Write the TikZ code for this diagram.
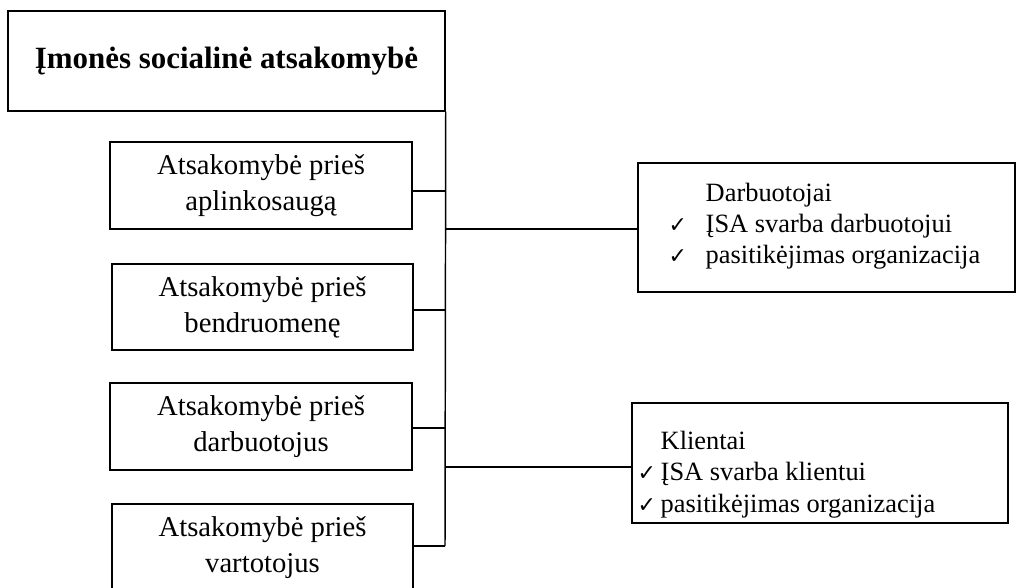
\documentclass[tikz,border=0pt]{standalone}
\usepackage{fontspec}
\setmainfont{Liberation Serif}
\newfontfamily\symfont{DejaVu Sans}
\begin{document}
\begin{tikzpicture}[x=0.75pt,y=-0.75pt,line width=1.1pt,
  lbox/.style={draw,inner sep=0pt,align=center,font=\fontsize{21.5}{27}\selectfont},
  rbox/.style={draw,inner sep=0pt},
  rtext/.style={anchor=base west,inner sep=0pt,font=\fontsize{19.8}{24}\selectfont},
  chk/.style={anchor=base west,inner sep=0pt,font=\symfont\fontsize{16.5}{16.5}\selectfont}]
\useasboundingbox (0,0) rectangle (1017,587);
\clip (0,0) rectangle (1017,587);
% top box
\node[draw,inner sep=0pt,minimum width=327.75pt,minimum height=75pt,font=\fontsize{23.2}{28}\selectfont\bfseries] (top) at (226.5,61) {Įmonės socialinė atsakomybė};
% left boxes
\node[lbox,minimum width=226.5pt,minimum height=65.25pt] (b1) at (261,185.5) {Atsakomybė prieš\\aplinkosaugą};
\node[lbox,minimum width=225.75pt,minimum height=64.5pt] (b2) at (262.5,307) {Atsakomybė prieš\\bendruomenę};
\node[lbox,minimum width=226.5pt,minimum height=65.25pt] (b3) at (261,426.5) {Atsakomybė prieš\\darbuotojus};
\node[lbox,minimum width=225.75pt,minimum height=65.25pt] (b4) at (262.5,547.5) {Atsakomybė prieš\\vartotojus};
% right boxes
\node[rbox,minimum width=282.75pt,minimum height=96.75pt] (d) at (826.5,227.5) {};
\node[rtext] (dt) at (705,201) {Darbuotojai};
\node[chk] (dc1) at (668,232) {✓};
\node[rtext] (d1) at (705,232) {ĮSA svarba darbuotojui};
\node[chk] (dc2) at (668,263) {✓};
\node[rtext] (d2) at (705,263) {pasitikėjimas organizacija};
\node[rbox,minimum width=282pt,minimum height=90pt] (k) at (820,463) {};
\node[rtext] (kt) at (660,449) {Klientai};
\node[chk] (kc1) at (637,480) {✓};
\node[rtext] (k1) at (660,480) {ĮSA svarba klientui};
\node[chk] (kc2) at (637,512) {✓};
\node[rtext] (k2) at (660,512) {pasitikėjimas organizacija};
% spine
\coordinate (s1) at (445,191);
\coordinate (s2) at (445,310);
\coordinate (s3) at (445,428);
\coordinate (s4) at (445,546);
\coordinate (r1) at (445,229);
\coordinate (r2) at (445,467);
\draw (top.south east) -- (s4);
\draw (b1.east |- s1) -- (s1);
\draw (b2.east |- s2) -- (s2);
\draw (b3.east |- s3) -- (s3);
\draw (b4.east |- s4) -- (s4);
\draw (r1) -- (d.west |- r1);
\draw (r2) -- (k.west |- r2);
\end{tikzpicture}
\end{document}
